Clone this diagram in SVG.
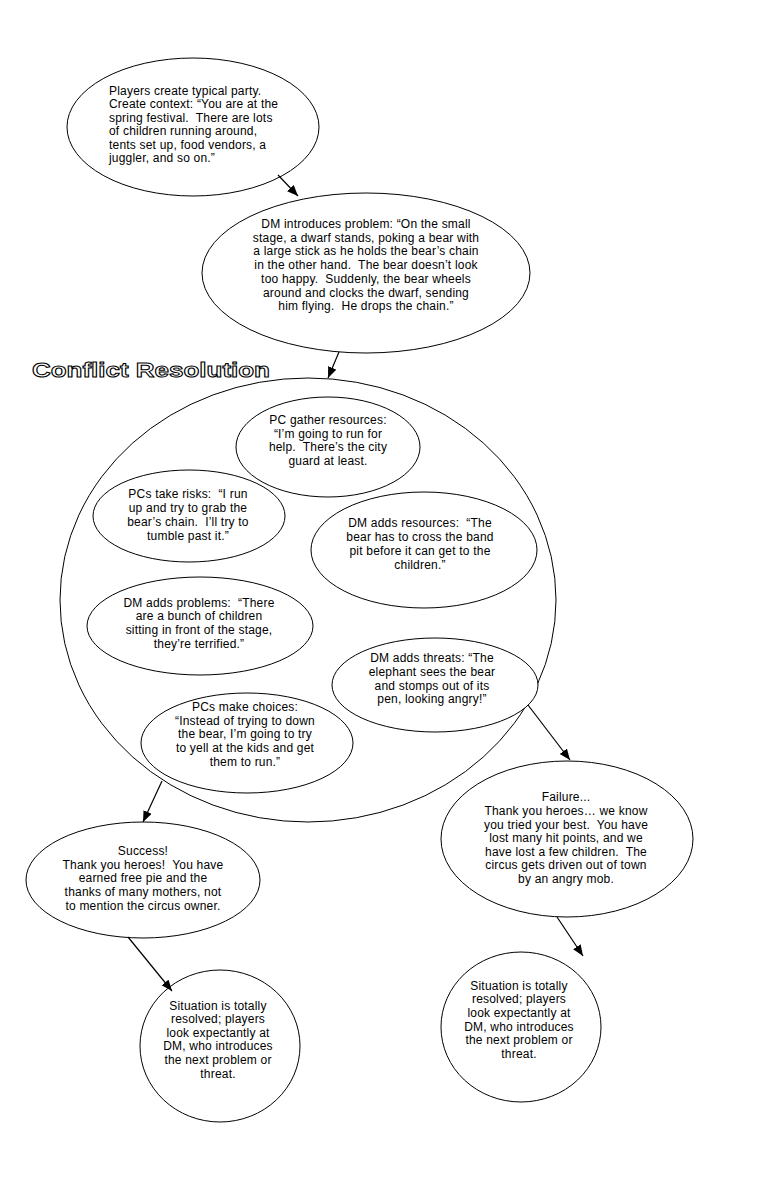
<svg xmlns="http://www.w3.org/2000/svg" width="778" height="1196" viewBox="0 0 778 1196">
<style>
.n{fill:#fff;stroke:#000;stroke-width:1}
.t{font-family:"Liberation Sans",Arial,sans-serif;font-size:12px;letter-spacing:0.2px;fill:#000;text-anchor:middle;white-space:pre}
.l{text-anchor:start}
.c{stroke:#000;stroke-width:1.2;fill:none;marker-end:url(#ah)}
.title{font-family:"Liberation Sans",Arial,sans-serif;font-size:21px;font-weight:bold;fill:#fff;stroke:#000;stroke-width:1}
</style>
<defs>
<marker id="ah" markerUnits="userSpaceOnUse" markerWidth="12" markerHeight="10" refX="11" refY="4.5" orient="auto">
<path d="M0,0 L11,4.5 L0,9 z" fill="#000"/>
</marker>
</defs>
<rect width="778" height="1196" fill="#fff"/>

<g id="conflict-resolution">
<ellipse class="n" cx="308" cy="600" rx="248" ry="222"/>
<text class="title" x="32" y="377" textLength="238" lengthAdjust="spacingAndGlyphs">Conflict Resolution</text>
</g>

<g id="n1" xml:space="preserve">
<ellipse class="n" cx="193" cy="127" rx="126" ry="69"/>
<text class="t l" x="109" y="95">Players create typical party.</text>
<text class="t l" x="109" y="108">Create context: “You are at the</text>
<text class="t l" x="109" y="122">spring festival.  There are lots</text>
<text class="t l" x="109" y="135">of children running around,</text>
<text class="t l" x="109" y="149">tents set up, food vendors, a</text>
<text class="t l" x="109" y="162">juggler, and so on.”</text>
</g>

<g id="n2" xml:space="preserve">
<ellipse class="n" cx="366" cy="273" rx="164" ry="80"/>
<text class="t" x="366" y="228">DM introduces problem: “On the small</text>
<text class="t" x="366" y="242">stage, a dwarf stands, poking a bear with</text>
<text class="t" x="366" y="255">a large stick as he holds the bear’s chain</text>
<text class="t" x="366" y="269">in the other hand.  The bear doesn’t look</text>
<text class="t" x="366" y="283">too happy.  Suddenly, the bear wheels</text>
<text class="t" x="366" y="297">around and clocks the dwarf, sending</text>
<text class="t" x="366" y="310">him flying.  He drops the chain.”</text>
</g>

<g id="gather" xml:space="preserve">
<ellipse class="n" cx="328" cy="447" rx="92" ry="50"/>
<text class="t" x="328" y="424">PC gather resources:</text>
<text class="t" x="328" y="438">“I’m going to run for</text>
<text class="t" x="328" y="451">help.  There’s the city</text>
<text class="t" x="328" y="465">guard at least.</text>
</g>

<g id="risks" xml:space="preserve">
<ellipse class="n" cx="189" cy="516" rx="96" ry="46"/>
<text class="t" x="188" y="498">PCs take risks:  “I run</text>
<text class="t" x="188" y="512">up and try to grab the</text>
<text class="t" x="188" y="526">bear’s chain.  I’ll try to</text>
<text class="t" x="188" y="540">tumble past it.”</text>
</g>

<g id="resources" xml:space="preserve">
<ellipse class="n" cx="424" cy="550" rx="113" ry="58"/>
<text class="t" x="420" y="527">DM adds resources:  “The</text>
<text class="t" x="420" y="541">bear has to cross the band</text>
<text class="t" x="420" y="555">pit before it can get to the</text>
<text class="t" x="420" y="569">children.”</text>
</g>

<g id="problems" xml:space="preserve">
<ellipse class="n" cx="200" cy="626" rx="113" ry="49"/>
<text class="t" x="199" y="607">DM adds problems:  “There</text>
<text class="t" x="199" y="620">are a bunch of children</text>
<text class="t" x="199" y="634">sitting in front of the stage,</text>
<text class="t" x="199" y="648">they’re terrified.”</text>
</g>

<g id="threats" xml:space="preserve">
<ellipse class="n" cx="435" cy="685" rx="103" ry="47"/>
<text class="t" x="432" y="662">DM adds threats: “The</text>
<text class="t" x="432" y="676">elephant sees the bear</text>
<text class="t" x="432" y="690">and stomps out of its</text>
<text class="t" x="432" y="703">pen, looking angry!”</text>
</g>

<g id="choices" xml:space="preserve">
<ellipse class="n" cx="247" cy="743" rx="106" ry="50"/>
<text class="t" x="245" y="711">PCs make choices:</text>
<text class="t" x="245" y="725">“Instead of trying to down</text>
<text class="t" x="245" y="738">the bear, I’m going to try</text>
<text class="t" x="245" y="752">to yell at the kids and get</text>
<text class="t" x="245" y="766">them to run.”</text>
</g>

<g id="success" xml:space="preserve">
<ellipse class="n" cx="143" cy="880" rx="117" ry="58"/>
<text class="t" x="143" y="855">Success!</text>
<text class="t" x="143" y="869">Thank you heroes!  You have</text>
<text class="t" x="143" y="882">earned free pie and the</text>
<text class="t" x="143" y="896">thanks of many mothers, not</text>
<text class="t" x="143" y="910">to mention the circus owner.</text>
</g>

<g id="failure" xml:space="preserve">
<ellipse class="n" cx="567" cy="839" rx="126" ry="78"/>
<text class="t" x="566" y="801">Failure...</text>
<text class="t" x="566" y="815">Thank you heroes… we know</text>
<text class="t" x="566" y="829">you tried your best.  You have</text>
<text class="t" x="566" y="842">lost many hit points, and we</text>
<text class="t" x="566" y="856">have lost a few children.  The</text>
<text class="t" x="566" y="869">circus gets driven out of town</text>
<text class="t" x="566" y="883">by an angry mob.</text>
</g>

<g id="resolved1">
<ellipse class="n" cx="220" cy="1046" rx="80" ry="76"/>
<text class="t" x="218" y="1010">Situation is totally</text>
<text class="t" x="218" y="1023">resolved; players</text>
<text class="t" x="218" y="1037">look expectantly at</text>
<text class="t" x="218" y="1050">DM, who introduces</text>
<text class="t" x="218" y="1064">the next problem or</text>
<text class="t" x="218" y="1078">threat.</text>
</g>

<g id="resolved2">
<ellipse class="n" cx="521" cy="1027" rx="80" ry="75"/>
<text class="t" x="519" y="990">Situation is totally</text>
<text class="t" x="519" y="1003">resolved; players</text>
<text class="t" x="519" y="1017">look expectantly at</text>
<text class="t" x="519" y="1031">DM, who introduces</text>
<text class="t" x="519" y="1044">the next problem or</text>
<text class="t" x="519" y="1058">threat.</text>
</g>

<g id="connectors">
<line class="c" x1="278" y1="175" x2="298" y2="196"/>
<line class="c" x1="339" y1="352" x2="328" y2="378"/>
<line class="c" x1="162" y1="781" x2="143" y2="822"/>
<line class="c" x1="528" y1="705" x2="570" y2="760"/>
<line class="c" x1="128" y1="937" x2="172" y2="991"/>
<line class="c" x1="557" y1="917" x2="583" y2="956"/>
</g>
</svg>
